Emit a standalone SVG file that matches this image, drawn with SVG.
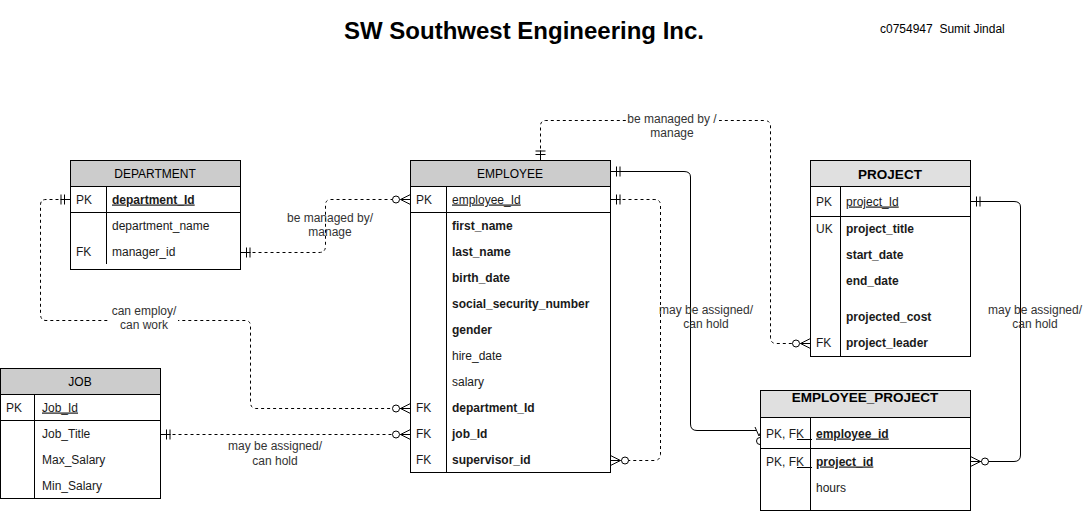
<svg xmlns="http://www.w3.org/2000/svg" width="1091" height="511" viewBox="0 0 1091 511">
<style>
text{font-family:"Liberation Sans",Arial,Helvetica,sans-serif;font-size:12px;fill:#1a1a1a}
.b{font-weight:bold}
.u{text-decoration:underline}
.c{text-anchor:middle}
.lbl{fill:#333}
.box{fill:#fff;stroke:#000;stroke-width:1}
.hd{fill:#ccc;stroke:#000;stroke-width:1}
.hd2{fill:#e0e0e0;stroke:#000;stroke-width:1}
.ln{stroke:#000;stroke-width:1;fill:none}
.dash{fill:none;stroke:#000;stroke-width:1;stroke-dasharray:3 3}
.solid{fill:none;stroke:#000;stroke-width:1}
.mk{fill:none;stroke:#000;stroke-width:1}
.mkc{fill:#fff;stroke:#000;stroke-width:1}
</style>
<defs>
<marker id="one" markerUnits="userSpaceOnUse" orient="auto-start-reverse" overflow="visible" markerWidth="20" markerHeight="20" refX="0" refY="0">
<path class="mk" d="M-6,-5V5M-9.5,-5V5M-10,0H0"/>
</marker>
<marker id="zmany" markerUnits="userSpaceOnUse" orient="auto-start-reverse" overflow="visible" markerWidth="20" markerHeight="20" refX="0" refY="0">
<path class="mk" d="M0,-5L-10,0L0,5M-10,0H0"/>
<circle class="mkc" cx="-14.5" cy="0" r="3.5"/>
</marker>
</defs>
<rect width="1091" height="511" fill="#fff"/>

<text x="524" y="38.5" class="b c" style="font-size:24px;fill:#000">SW Southwest Engineering Inc.</text>
<text x="880" y="33" style="fill:#000" xml:space="preserve">c0754947  Sumit Jindal</text>

<g id="connectors">
<path class="dash" d="M70.5,199.5H46Q40.5,199.5 40.5,205V314Q40.5,320.5 46,320.5H245Q250.5,320.5 250.5,326V402Q250.5,408.5 256,408.5H410.5" marker-start="url(#one)" marker-end="url(#zmany)"/>
<rect x="108" y="304" width="70" height="30" fill="#fff"/>
<text x="144" y="315" class="c lbl">can employ/</text>
<text x="144" y="329" class="c lbl">can work</text>

<path class="dash" d="M240.5,252.5H319Q325.5,252.5 325.5,246V205Q325.5,199.5 331,199.5H410.5" marker-start="url(#one)" marker-end="url(#zmany)"/>
<text x="330" y="222" class="c lbl">be managed by/</text>
<text x="330" y="236" class="c lbl">manage</text>

<path class="dash" d="M160.5,434.5H410.5" marker-start="url(#one)" marker-end="url(#zmany)"/>
<text x="275" y="450" class="c lbl">may be assigned/</text>
<text x="275" y="465" class="c lbl">can hold</text>

<path class="dash" d="M540.5,160.5V126Q540.5,120.5 546,120.5H764Q770.5,120.5 770.5,126V337Q770.5,343.5 776,343.5H810.5" marker-start="url(#one)" marker-end="url(#zmany)"/>
<rect x="627" y="111" width="92" height="28" fill="#fff"/>
<text x="672" y="123" class="c lbl">be managed by /</text>
<text x="672" y="137" class="c lbl">manage</text>

<path class="dash" d="M610.5,199.5H654Q660.5,199.5 660.5,205V454Q660.5,460.5 654,460.5H610.5" marker-start="url(#one)" marker-end="url(#zmany)"/>

<path class="solid" d="M610.5,171.5H684Q690.5,171.5 690.5,177V424Q690.5,430.5 697,430.5H756" marker-start="url(#one)"/>
<path class="mk" d="M755,427L759,436L763,427"/>
<circle class="mkc" cx="760" cy="441" r="3.5"/>
<text x="706" y="314" class="c lbl">may be assigned/</text>
<text x="706" y="328" class="c lbl">can hold</text>

<path class="solid" d="M970.5,201.5H1014Q1020.5,201.5 1020.5,207V455Q1020.5,461.5 1014,461.5H970.5" marker-start="url(#one)" marker-end="url(#zmany)"/>
<text x="1035" y="314" class="c lbl">may be assigned/</text>
<text x="1035" y="328" class="c lbl">can hold</text>
</g>

<g id="department">
<rect class="box" x="70.5" y="160.5" width="170" height="109"/>
<rect class="hd" x="70.5" y="160.5" width="170" height="26"/>
<path class="ln" d="M70.5,212.5H240.5M106.5,186.5V264"/>
<text x="155" y="177.5" class="c" style="fill:#000">DEPARTMENT</text>
<text x="76" y="203.5">PK</text>
<text x="112" y="203.5" class="b u">department_Id</text>
<text x="112" y="230">department_name</text>
<text x="76" y="256">FK</text>
<text x="112" y="256">manager_id</text>
</g>

<g id="employee">
<rect class="box" x="410.5" y="160.5" width="200" height="312"/>
<rect class="hd" x="410.5" y="160.5" width="200" height="26"/>
<path class="ln" d="M410.5,212.5H610.5M446.5,186.5V472.5"/>
<text x="510" y="177.5" class="c" style="fill:#000">EMPLOYEE</text>
<text x="416" y="203.5">PK</text>
<text x="452" y="203.5" class="u">employee_Id</text>
<text x="452" y="230" class="b">first_name</text>
<text x="452" y="256" class="b">last_name</text>
<text x="452" y="282" class="b">birth_date</text>
<text x="452" y="308" class="b">social_security_number</text>
<text x="452" y="334" class="b">gender</text>
<text x="452" y="360">hire_date</text>
<text x="452" y="386">salary</text>
<text x="416" y="412">FK</text>
<text x="452" y="412" class="b">department_Id</text>
<text x="416" y="438">FK</text>
<text x="452" y="438" class="b">job_Id</text>
<text x="416" y="464">FK</text>
<text x="452" y="464" class="b">supervisor_id</text>
</g>

<g id="project">
<rect class="box" x="810.5" y="160.5" width="160" height="196"/>
<rect class="hd2" x="810.5" y="160.5" width="160" height="26"/>
<path class="ln" d="M810.5,216.5H970.5M840.5,186.5V356.5"/>
<text x="890" y="178.5" class="b c" style="font-size:13.5px;fill:#000">PROJECT</text>
<text x="816" y="205.5">PK</text>
<text x="846" y="205.5" class="u">project_Id</text>
<text x="816" y="233">UK</text>
<text x="846" y="233" class="b">project_title</text>
<text x="846" y="259" class="b">start_date</text>
<text x="846" y="285" class="b">end_date</text>
<text x="846" y="321" class="b">projected_cost</text>
<text x="816" y="347">FK</text>
<text x="846" y="347" class="b">project_leader</text>
</g>

<g id="employee_project">
<rect class="box" x="760.5" y="390.5" width="210" height="120"/>
<rect class="hd2" x="760.5" y="390.5" width="210" height="27"/>
<path class="ln" d="M760.5,448.5H970.5M810.5,417.5V510.5"/>
<text x="865" y="402" class="b c" style="font-size:13.5px;fill:#000">EMPLOYEE_PROJECT</text>
<text x="766" y="437.5">PK, FK</text>
<text x="816" y="437.5" class="b u">employee_id</text>
<path class="ln" d="M797,439.5H812"/>
<text x="766" y="465.5">PK, FK</text>
<text x="816" y="465.5" class="b u">project_id</text>
<path class="ln" d="M797,467.5H812"/>
<text x="816" y="491.5">hours</text>
</g>

<g id="job">
<rect class="box" x="0.5" y="368.5" width="160" height="130"/>
<rect class="hd" x="0.5" y="368.5" width="160" height="26"/>
<path class="ln" d="M0.5,420.5H160.5M34.5,394.5V498.5"/>
<text x="80" y="385.5" class="c" style="fill:#000">JOB</text>
<text x="6" y="411.5">PK</text>
<text x="42" y="411.5" class="u">Job_Id</text>
<text x="42" y="437.5">Job_Title</text>
<text x="42" y="463.5">Max_Salary</text>
<text x="42" y="489.5">Min_Salary</text>
</g>
</svg>
